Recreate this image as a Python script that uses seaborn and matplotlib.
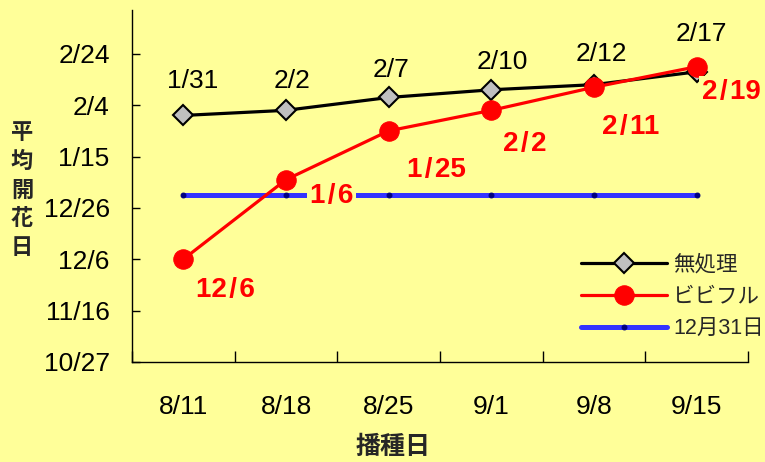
import numpy as np
import pandas as pd
import matplotlib
matplotlib.use('Agg')
import matplotlib.pyplot as plt
import seaborn as sns

# data (month/day strings)
sow_dates = ['8/11', '8/18', '8/25', '9/1', '9/8', '9/15']
untreated = ['1/31', '2/2', '2/7', '2/10', '2/12', '2/17']
bibiful = ['12/6', '1/6', '1/25', '2/2', '2/11', '2/19']
ref_date = '12/31'
y_tick_dates = ['10/27', '11/16', '12/6', '12/26', '1/15', '2/4', '2/24']
series_names = ['無処理', 'ビビフル', '12月31日']

# label offsets (points) relative to each marker
untreated_offsets = [(7, 25), (4, 21), (2, 20), (8, 20), (5, 22), (3, 27)]
bibiful_offsets = [(30, -22), (33, -12), (34, -28), (24, -24), (26, -29), (25, -18)]

BG = '#FFFF99'
BASE = pd.Timestamp('2000-10-27')


def to_days(md):
    m, d = map(int, md.split('/'))
    year = 2000 if m >= 8 else 2001
    return (pd.Timestamp(year=year, month=m, day=d) - BASE).days


sns.set_theme(style='white')
plt.rcParams['font.family'] = ['Liberation Sans', 'Noto Sans CJK JP', 'DejaVu Sans']

x = np.arange(len(sow_dates))
df = pd.DataFrame({
    'x': x,
    'untreated': [to_days(d) for d in untreated],
    'bibiful': [to_days(d) for d in bibiful],
    'ref': [to_days(ref_date)] * len(sow_dates),
})

fig = plt.figure(figsize=(7.65, 4.62), dpi=100, facecolor=BG)
ax = fig.add_axes([0.1725, 0.2165, 0.8055, 0.7615])
ax.set_facecolor(BG)

sns.lineplot(data=df, x='x', y='ref', ax=ax, color='#3333FF', linewidth=3.6,
             marker='o', markersize=3.5, markerfacecolor='#000080',
             markeredgecolor='#000080', label=series_names[2], zorder=2)
sns.lineplot(data=df, x='x', y='untreated', ax=ax, color='black', linewidth=2.3,
             marker='D', markersize=10, markerfacecolor='#C0C0C0',
             markeredgecolor='black', markeredgewidth=1.5,
             label=series_names[0], zorder=3)
sns.lineplot(data=df, x='x', y='bibiful', ax=ax, color='#FF0000', linewidth=2.3,
             marker='o', markersize=14, markerfacecolor='#FF0000',
             markeredgecolor='#FF0000', label=series_names[1], zorder=4)

# data labels
for i, (lab, off) in enumerate(zip(untreated, untreated_offsets)):
    ax.annotate(lab, (x[i], df['untreated'][i]), xytext=off,
                textcoords='offset points', ha='center', va='center',
                fontsize=19, color='black', zorder=5)
for i, (lab, off) in enumerate(zip(bibiful, bibiful_offsets)):
    ax.annotate(lab.replace('/', '\u200a/\u200a'), (x[i], df['bibiful'][i]),
                xytext=off, textcoords='offset points', ha='center', va='center',
                fontsize=20, fontweight='bold', color='#FF0000', zorder=5,
                bbox=dict(boxstyle='square,pad=0.1', fc=BG, ec='none'))

# axes
ax.set_xlim(-0.5, 5.5)
ax.set_ylim(0, 137)
ax.set_xticks(np.arange(-0.5, 6, 1))
ax.set_xticklabels([])
ax.set_xticks(x, minor=True)
ax.set_xticklabels(sow_dates, minor=True)
ax.tick_params(axis='x', which='major', direction='in', length=8, width=1,
               color='black', bottom=True)
ax.tick_params(axis='x', which='minor', length=0, pad=24, labelsize=19,
               labelcolor='black', bottom=True)
ax.set_yticks([to_days(d) for d in y_tick_dates])
ax.set_yticklabels(y_tick_dates)
ax.tick_params(axis='y', direction='in', length=6, width=1, color='black',
               left=True, pad=16, labelsize=19, labelcolor='black')
ax.set_xlabel('')
ax.set_ylabel('')
for s in ['top', 'right']:
    ax.spines[s].set_visible(False)
for s in ['left', 'bottom']:
    ax.spines[s].set_color('black')
    ax.spines[s].set_linewidth(1)

handles, labels = ax.get_legend_handles_labels()
order = [labels.index(n) for n in series_names]
ax.legend([handles[i] for i in order], [labels[i] for i in order],
          loc='upper left', bbox_to_anchor=(0.728, 0.305), frameon=False,
          fontsize=15.5, handlelength=4.0, handletextpad=0.3, labelspacing=0.5,
          borderpad=0, borderaxespad=0)

fig.text(22 / 765, 1 - 190 / 462, '\n'.join('平均開花日'), ha='center',
         va='center', fontsize=16, fontweight='bold', linespacing=1.33,
         family=['Noto Sans CJK JP'])
fig.text(393 / 765, 1 - 447 / 462, '播種日', ha='center', va='center',
         fontsize=18, fontweight='bold', family=['Noto Sans CJK JP'])

fig.savefig('out.png', dpi=100, facecolor=BG)
